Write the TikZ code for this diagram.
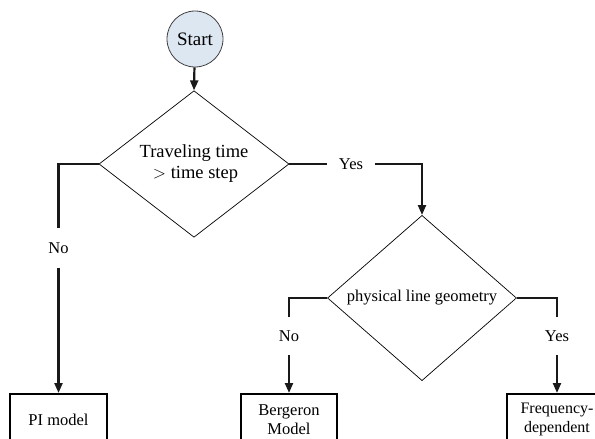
\documentclass[tikz,border=0pt]{standalone}
\usepackage{fontspec}
\setmainfont{Liberation Serif}
\usetikzlibrary{shapes.geometric,arrows.meta}
\definecolor{startfill}{HTML}{DDE7F2}
\begin{document}
\begin{tikzpicture}[x=1pt,y=-1pt,
  flow/.style={line width=2.2pt,draw=black!90},
  arrowline/.style={flow,-{Triangle[width=8pt,length=10pt]}},
  decision/.style={diamond,draw,line width=0.7pt,inner sep=0pt,align=center},
  modelbox/.style={draw,line width=1.6pt,inner sep=0pt,align=center,anchor=north},
  lab/.style={inner sep=0pt,font=\fontsize{16.5}{19}\selectfont}
]
\useasboundingbox (0,0) rectangle (595,439);
\clip (0,0) rectangle (595,439);

\node[circle,draw=black!75,line width=0.8pt,fill=startfill,minimum size=56pt,inner sep=0pt,
  font=\fontsize{19}{22}\selectfont] (start) at (195,39) {Start};

\node[decision,minimum width=190pt,minimum height=118pt,
  font=\fontsize{18.5}{22}\selectfont] (d1) at (194,164) {Traveling time\\[-1pt] \,$>$ time step};

\node[decision,minimum width=189pt,minimum height=115pt,
  font=\fontsize{16.5}{19}\selectfont] (d2) at (422,298) {physical line geometry};

\node[modelbox,minimum width=97pt,minimum height=52pt,font=\fontsize{16.5}{19}\selectfont]
  (pi) at (58.5,393) {PI model};
\node[modelbox,minimum width=96pt,minimum height=52pt,font=\fontsize{16.5}{19}\selectfont]
  (berg) at (289,393) {Bergeron\\Model};
\node[modelbox,minimum width=100pt,minimum height=52pt,font=\fontsize{16}{19}\selectfont]
  (freq) at (557,393) {Frequency-\\dependent};

\node[lab,minimum height=39pt] (no1) at (58.5,248) {No};
\node[lab,minimum width=48pt] (yes1) at (351,164) {Yes};
\node[lab,minimum height=38pt] (no2) at (289,336) {No};
\node[lab,minimum height=38pt] (yes2) at (557,336) {Yes};

\draw[arrowline] (start) -- (d1.north);
\draw[flow] (d1.west) -| (no1.north);
\draw[arrowline] (no1.south) -- (pi.north);
\draw[flow] (d1.east) -- (yes1.west);
\draw[arrowline] (yes1.east) -| (d2.north);
\draw[flow] (d2.west) -| (no2.north);
\draw[arrowline] (no2.south) -- (berg.north);
\draw[flow] (d2.east) -| (yes2.north);
\draw[arrowline] (yes2.south) -- (freq.north);
\end{tikzpicture}
\end{document}
